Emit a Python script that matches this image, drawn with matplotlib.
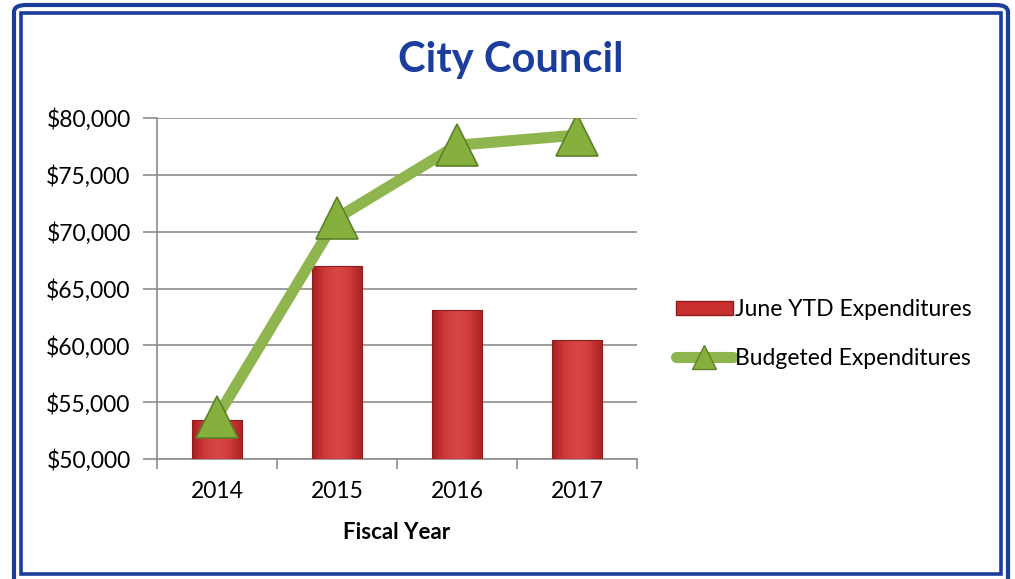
import numpy as np
import matplotlib.pyplot as plt
from matplotlib.patches import FancyBboxPatch, Rectangle
from matplotlib.lines import Line2D
from matplotlib.colors import LinearSegmentedColormap

years = ["2014", "2015", "2016", "2017"]
june_ytd = [53400, 67000, 63100, 60500]
budgeted = [53700, 71200, 77600, 78500]
y_ticks = [50000, 55000, 60000, 65000, 70000, 75000, 80000]

plt.rcParams['font.family'] = ['Lato', 'DejaVu Sans']

W, H = 1015, 579
fig = plt.figure(figsize=(W / 100, H / 100), dpi=100)
fig.patch.set_facecolor('white')

# double blue frame around the whole chart
blue = '#1b3d9c'
outer = FancyBboxPatch((14 / W, -0.05), (1008 - 14) / W, (H - 5) / H + 0.05,
                       boxstyle="round,pad=0,rounding_size=0.012",
                       transform=fig.transFigure, fill=False,
                       edgecolor=blue, linewidth=3.0)
inner = Rectangle((21 / W, (H - 573.5) / H), (1000.5 - 21) / W, (573.5 - 13) / H,
                  transform=fig.transFigure, fill=False,
                  edgecolor=blue, linewidth=2.6)
fig.patches.extend([outer, inner])

ax = fig.add_axes([157 / W, 1 - 459 / H, 480 / W, 341 / H])
x = np.arange(len(years))
bar_w = 0.42

# red bars with a soft left-to-right shading
red_cmap = LinearSegmentedColormap.from_list(
    "bar_red", ['#a82022', '#cf3a3a', '#d84848', '#cf3a3a', '#a82022'])
grad = np.linspace(0, 1, 64).reshape(1, -1)
bars = ax.bar(x, np.array(june_ytd) - 50000, bottom=50000, width=bar_w,
              color='none', edgecolor='#8e1c1c', linewidth=0.8, zorder=4)
for b in bars:
    im = ax.imshow(grad, cmap=red_cmap, aspect='auto', zorder=3,
                   extent=[b.get_x(), b.get_x() + b.get_width(),
                           b.get_y(), b.get_y() + b.get_height()])
    im.set_clip_path(b)

ax.plot(x, budgeted, color='#8fb54e', linewidth=8, solid_capstyle='round',
        zorder=5)
ax.plot(x, budgeted, linestyle='none', marker='^', markersize=30,
        markerfacecolor='#86b03e', markeredgecolor='#5d7f27',
        markeredgewidth=1.2, zorder=6)

ax.set_xlim(-0.5, 3.5)
ax.set_ylim(50000, 80000)
ax.set_yticks(y_ticks)
ax.set_yticklabels([f"${v:,.0f}" for v in y_ticks], fontsize=16.5)
ax.yaxis.grid(True, color='#8c8c8c', linewidth=1.2, zorder=0)
ax.set_axisbelow(True)

ax.set_xticks(x)
ax.set_xticklabels(years, fontsize=16.5)
ax.set_xticks(np.arange(-0.5, 4, 1), minor=True)
ax.tick_params(axis='x', which='major', length=0, pad=16)
ax.tick_params(axis='x', which='minor', length=7, color='#8c8c8c', width=1.2)
ax.tick_params(axis='y', length=10, color='#8c8c8c', width=1.2, pad=9)

for side in ['top', 'right']:
    ax.spines[side].set_visible(False)
for side in ['left', 'bottom']:
    ax.spines[side].set_color('#8c8c8c')
    ax.spines[side].set_linewidth(1.2)

ax.set_xlabel("Fiscal Year", fontsize=16, fontweight='bold', labelpad=14)
fig.text(511 / W, 1 - 60 / H, "City Council", ha='center', va='center',
         fontsize=30, fontweight='bold', color='#1b3d9c')

handles = [
    Rectangle((0, 0), 1, 1, facecolor='#c93030', edgecolor='#8e1c1c'),
    Line2D([], [], color='#8fb54e', linewidth=8, marker='^', markersize=17,
           markerfacecolor='#86b03e', markeredgecolor='#5d7f27',
           solid_capstyle='round'),
]
fig.legend(handles, ["June YTD Expenditures", "Budgeted Expenditures"],
           loc='center left', bbox_to_anchor=(655 / W, 1 - 334 / H),
           frameon=False, fontsize=16.5, handlelength=2.5, handleheight=0.6,
           handletextpad=0.1, labelspacing=1.2)

fig.savefig("out.png", dpi=100)
